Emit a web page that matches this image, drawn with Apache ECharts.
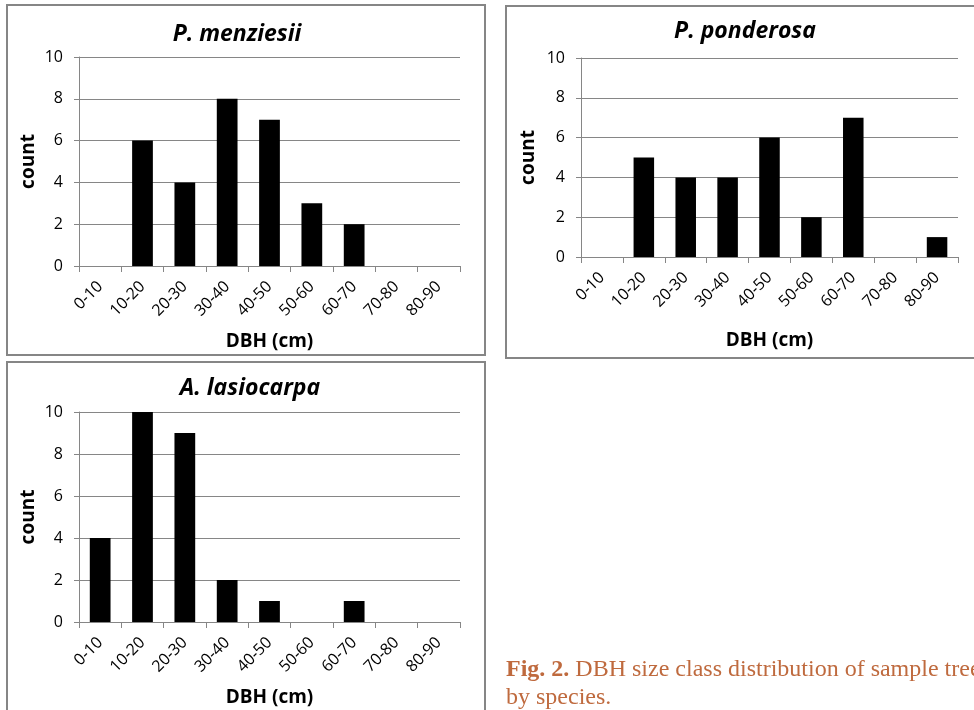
<!DOCTYPE html>
<html>
<head>
<meta charset="utf-8">
<script src="https://cdn.jsdelivr.net/npm/echarts@6/dist/echarts.min.js"></script>
<style>
  html, body { margin: 0; padding: 0; background: #ffffff; }
  #chart { width: 974px; height: 710px; }
</style>
</head>
<body>
<div id="chart"></div>
<script>
// DBH size classes (cm) shared by all three species panels
const categories = ['0-10', '10-20', '20-30', '30-40', '40-50', '50-60', '60-70', '70-80', '80-90'];

// Tree counts per size class
const menziesii  = [0, 6, 4, 8, 7, 3, 2, 0, 0];
const ponderosa  = [0, 5, 4, 4, 6, 2, 7, 0, 1];
const lasiocarpa = [4, 10, 9, 2, 1, 0, 1, 0, 0];

const speciesNames = ['P. menziesii', 'P. ponderosa', 'A. lasiocarpa'];
const speciesData = [menziesii, ponderosa, lasiocarpa];

const yMin = 0, yMax = 10, yStep = 2;

const FONT = '"Open Sans", Lato, sans-serif';
const GRAY = '#868686';

// Plot rectangles for the three panels
const grids = [
  { left: 79,  right: 514, top: 57,  bottom: 444 },
  { left: 581, right: 16,  top: 58,  bottom: 453 },
  { left: 79,  right: 514, top: 412, bottom: 88 }
];

// Per-panel placement of titles and axis names
const titlePos = [
  { x: 232, y: 18 },
  { x: 740, y: 15 },
  { x: 245, y: 372 }
];
const xNameGap = [66, 74, 66];
const yNameGap = [41, 43, 41];

const chart = echarts.init(document.getElementById('chart'), null, { renderer: 'canvas' });

const option = {
  backgroundColor: '#ffffff',
  animation: false,
  title: speciesNames.map((n, i) => ({
    text: n,
    left: titlePos[i].x,
    top: titlePos[i].y,
    textAlign: 'center',
    textStyle: { fontFamily: FONT, fontSize: 23, fontWeight: 'bold', fontStyle: 'italic', color: '#000' }
  })),
  grid: grids.map(g => Object.assign({ containLabel: false }, g)),
  xAxis: grids.map((g, i) => ({
    type: 'category',
    gridIndex: i,
    data: categories,
    boundaryGap: true,
    name: 'DBH (cm)',
    nameLocation: 'middle',
    nameGap: xNameGap[i],
    nameTextStyle: { fontFamily: FONT, fontSize: 19, fontWeight: 'bold', color: '#000' },
    axisLine: { show: true, lineStyle: { color: GRAY, width: 1 } },
    axisTick: { show: true, alignWithLabel: false, length: 6, interval: 0, lineStyle: { color: GRAY } },
    axisLabel: { interval: 0, rotate: 45, margin: 18, fontFamily: FONT, fontSize: 16, color: '#000' },
    splitLine: { show: false }
  })),
  yAxis: grids.map((g, i) => ({
    type: 'value',
    gridIndex: i,
    min: yMin,
    max: yMax,
    interval: yStep,
    name: 'count',
    nameLocation: 'middle',
    nameGap: yNameGap[i],
    nameRotate: 90,
    nameTextStyle: { fontFamily: FONT, fontSize: 19, fontWeight: 'bold', color: '#000' },
    axisLine: { show: true, lineStyle: { color: GRAY, width: 1 } },
    axisTick: { show: true, length: 5, lineStyle: { color: GRAY } },
    axisLabel: { margin: 16, fontFamily: FONT, fontSize: 16, color: '#000' },
    splitLine: { show: true, lineStyle: { color: GRAY, width: 1 } }
  })),
  series: speciesData.map((d, i) => ({
    type: 'bar',
    name: speciesNames[i],
    xAxisIndex: i,
    yAxisIndex: i,
    data: d,
    barWidth: '49%',
    itemStyle: { color: '#000000' }
  })),
  graphic: [
    // panel frames
    { type: 'rect', shape: { x: 7, y: 5, width: 478, height: 350 }, style: { fill: 'none', stroke: GRAY, lineWidth: 2 }, z: -1 },
    { type: 'rect', shape: { x: 506, y: 6, width: 500, height: 352 }, style: { fill: 'none', stroke: GRAY, lineWidth: 2 }, z: -1 },
    { type: 'rect', shape: { x: 7, y: 362, width: 478, height: 380 }, style: { fill: 'none', stroke: GRAY, lineWidth: 2 }, z: -1 },
    // figure caption
    {
      type: 'text',
      left: 506,
      top: 656,
      style: {
        text: '{b|Fig. 2.} DBH size class distribution of sample trees\nby species.',
        font: '24px "Liberation Serif", "Times New Roman", serif',
        fill: '#bf6a3e',
        lineHeight: 28,
        rich: {
          b: { fontWeight: 'bold', fontFamily: '"Liberation Serif", "Times New Roman", serif', fontSize: 24, fill: '#bf6a3e', lineHeight: 28 }
        }
      }
    }
  ]
};

chart.setOption(option);
</script>
</body>
</html>
